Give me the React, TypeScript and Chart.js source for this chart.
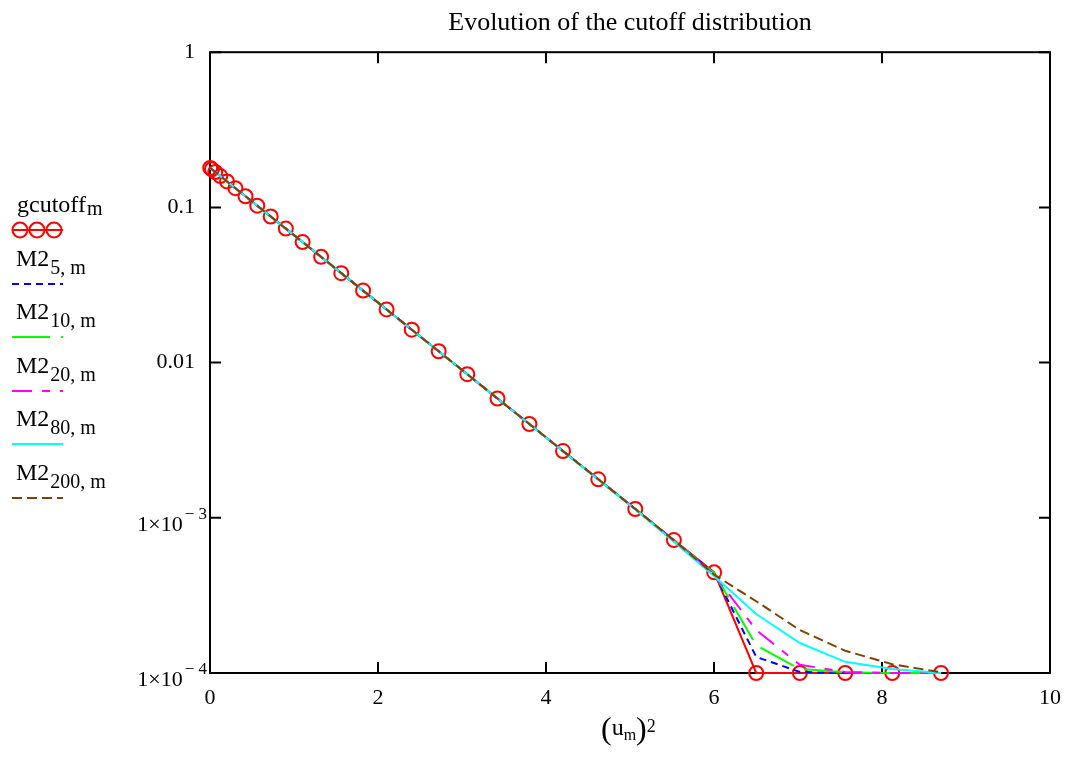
import React, { useEffect, useRef } from "react";
import { Chart, registerables } from "chart.js";

Chart.register(...registerables);

const SERIF = "'Liberation Serif', 'Times New Roman', Times, serif";

// ---- data ----
const uSquared = [
  0.0025, 0.0225, 0.0625, 0.1225, 0.2025, 0.3025, 0.4225, 0.5625, 0.7225, 0.9025,
  1.1025, 1.3225, 1.5625, 1.8225, 2.1025, 2.4025, 2.7225, 3.0625, 3.4225, 3.8025,
  4.2025, 4.6225, 5.0625, 5.5225, 6.0025, 6.5025, 7.0225, 7.5625, 8.1225, 8.7025,
];

const gcutoff = [
  0.1796, 0.176, 0.1691, 0.1592, 0.147, 0.133, 0.118, 0.1026, 0.0874, 0.073,
  0.0598, 0.048, 0.0377, 0.0291, 0.022, 0.01629, 0.01183, 0.00842, 0.00587, 0.00402,
  0.00269, 0.00177, 0.00114, 0.000719, 0.000445, 0.0001, 0.0001, 0.0001, 0.0001, 0.0001,
];

const m2_5 = [
  0.1796, 0.176, 0.1691, 0.1592, 0.147, 0.133, 0.118, 0.1026, 0.0874, 0.073,
  0.0598, 0.048, 0.0377, 0.0291, 0.022, 0.01629, 0.01183, 0.00842, 0.00587, 0.00402,
  0.00269, 0.00177, 0.00114, 0.000715, 0.00044, 0.000127, 0.0001015, 0.0001, 0.0001, 0.0001,
];

const m2_10 = [
  0.1796, 0.176, 0.1691, 0.1592, 0.147, 0.133, 0.118, 0.1026, 0.0874, 0.073,
  0.0598, 0.048, 0.0377, 0.0291, 0.022, 0.01629, 0.01183, 0.00842, 0.00587, 0.00402,
  0.00269, 0.00177, 0.00114, 0.000712, 0.00044, 0.000151, 0.000106, 0.000101, 0.0001, 0.0001,
];

const m2_20 = [
  0.1796, 0.176, 0.1691, 0.1592, 0.147, 0.133, 0.118, 0.1026, 0.0874, 0.073,
  0.0598, 0.048, 0.0377, 0.0291, 0.022, 0.01629, 0.01183, 0.00842, 0.00587, 0.00402,
  0.00269, 0.00177, 0.00114, 0.000708, 0.00043, 0.000189, 0.000113, 0.0001015, 0.0001, 0.0001,
];

const m2_80 = [
  0.1796, 0.176, 0.1691, 0.1592, 0.147, 0.133, 0.118, 0.1026, 0.0874, 0.073,
  0.0598, 0.048, 0.0377, 0.0291, 0.022, 0.01629, 0.01183, 0.00842, 0.00587, 0.00402,
  0.00268, 0.00176, 0.00113, 0.0007, 0.00042, 0.00024, 0.000156, 0.000118, 0.000106, 0.0001,
];

const m2_200 = [
  0.1796, 0.176, 0.1691, 0.1592, 0.147, 0.133, 0.118, 0.1026, 0.0874, 0.073,
  0.0598, 0.048, 0.0377, 0.0291, 0.022, 0.01629, 0.01183, 0.00842, 0.00587, 0.00402,
  0.00269, 0.00177, 0.00114, 0.000715, 0.00043, 0.00029, 0.000189, 0.000139, 0.000114, 0.000101,
];

const xTickValues = [0, 2, 4, 6, 8, 10];
const yTickValues = [1, 0.1, 0.01, 0.001, 0.0001];
const yTickBase = ["1", "0.1", "0.01", "1×10", "1×10"];
const yTickExp = ["", "", "", "− 3", "− 4"];

const titleText = "Evolution of the cutoff distribution";

// ---- styles ----
type Entry = {
  base: string;
  sub: string;
  subDrop: number;
  color: string;
  dash: number[];
  circles?: boolean;
};

const legendEntries: Entry[] = [
  { base: "gcutoff", sub: "m", subDrop: 3, color: "#ff0000", dash: [], circles: true },
  { base: "M2", sub: "5, m", subDrop: 8, color: "#0000ff", dash: [7, 5] },
  { base: "M2", sub: "10, m", subDrop: 8, color: "#00ff00", dash: [38, 11] },
  { base: "M2", sub: "20, m", subDrop: 8, color: "#ff00ff", dash: [20, 10, 8, 10] },
  { base: "M2", sub: "80, m", subDrop: 8, color: "#00ffff", dash: [] },
  { base: "M2", sub: "200, m", subDrop: 8, color: "#804000", dash: [10, 5] },
];

const seriesValues = [gcutoff, m2_5, m2_10, m2_20, m2_80, m2_200];

const frameAndTicks = {
  id: "frameAndTicks",
  beforeDatasetsDraw(chart: any) {
    const { ctx, chartArea: a, scales } = chart;
    ctx.save();
    ctx.strokeStyle = "#000";
    ctx.lineWidth = 2;
    ctx.strokeRect(a.left, a.top, a.right - a.left, a.bottom - a.top);
    const L = 11;
    ctx.beginPath();
    for (const v of xTickValues) {
      const px = scales.x.getPixelForValue(v);
      ctx.moveTo(px, a.bottom);
      ctx.lineTo(px, a.bottom - L);
      ctx.moveTo(px, a.top);
      ctx.lineTo(px, a.top + L);
    }
    for (const v of yTickValues) {
      const py = scales.y.getPixelForValue(v);
      ctx.moveTo(a.left, py);
      ctx.lineTo(a.left + L, py);
      ctx.moveTo(a.right, py);
      ctx.lineTo(a.right - L, py);
    }
    ctx.stroke();
    ctx.restore();
  },
  afterDraw(chart: any) {
    const { ctx, chartArea: a, scales } = chart;
    ctx.save();
    ctx.fillStyle = "#000";
    ctx.textBaseline = "alphabetic";
    ctx.textAlign = "right";
    yTickValues.forEach((v, i) => {
      const exp = yTickExp[i];
      if (!exp) return;
      const py = scales.y.getPixelForValue(v);
      const right = a.left - 3;
      ctx.font = `17px ${SERIF}`;
      ctx.fillText(exp, right, py + 1);
      const w = ctx.measureText(exp).width;
      ctx.font = `22px ${SERIF}`;
      ctx.fillText(yTickBase[i], right - w - 2, py + 13);
    });
    ctx.restore();
  },
};

function LegendBlock() {
  return (
    <>
      {legendEntries.map((e, i) => {
        const baseline = 212 + i * 53.6;
        const sampleY = baseline + 18;
        return (
          <React.Fragment key={i}>
            <div
              style={{
                position: "absolute",
                left: e.circles ? 17 : 16,
                top: baseline - 20,
                fontFamily: SERIF,
                fontSize: 24,
                lineHeight: "24px",
                whiteSpace: "nowrap",
                color: "#000",
              }}
            >
              {e.base}
              <span
                style={{
                  fontSize: 20,
                  position: "relative",
                  top: e.subDrop,
                  lineHeight: 0,
                  marginLeft: 1,
                }}
              >
                {e.sub}
              </span>
            </div>
            <svg
              width={80}
              height={24}
              style={{ position: "absolute", left: 0, top: sampleY - 12 }}
            >
              <line
                x1={12}
                y1={12}
                x2={63}
                y2={12}
                stroke={e.color}
                strokeWidth={2}
                strokeDasharray={e.dash.length ? e.dash.join(" ") : undefined}
              />
              {e.circles &&
                [20, 37, 54].map((cx) => (
                  <circle key={cx} cx={cx} cy={12} r={7.5} fill="none" stroke={e.color} strokeWidth={2} />
                ))}
            </svg>
          </React.Fragment>
        );
      })}
    </>
  );
}

function XTitle() {
  return (
    <div
      style={{
        position: "absolute",
        left: 601,
        top: 715,
        fontFamily: SERIF,
        fontSize: 24,
        lineHeight: "24px",
        whiteSpace: "nowrap",
        color: "#000",
      }}
    >
      <span style={{ fontSize: 32, lineHeight: 0, position: "relative", top: 4 }}>(</span>
      u
      <span style={{ fontSize: 16, lineHeight: 0, position: "relative", top: 5 }}>m</span>
      <span style={{ fontSize: 32, lineHeight: 0, position: "relative", top: 4 }}>)</span>
      <span style={{ fontSize: 18, lineHeight: 0, position: "relative", top: -3 }}>2</span>
    </div>
  );
}

export default function App() {
  const canvasRef = useRef<HTMLCanvasElement | null>(null);

  useEffect(() => {
    const canvas = canvasRef.current;
    if (!canvas) return;

    const datasets = legendEntries.map((e, i) => {
      const values = seriesValues[i];
      const isG = !!e.circles;
      return {
        label: e.base + "_" + e.sub,
        data: uSquared.map((x, k) => ({ x, y: values[k] })),
        borderColor: e.color,
        backgroundColor: "rgba(0,0,0,0)",
        borderWidth: 2,
        borderDash: e.dash,
        pointRadius: isG ? 7 : 0,
        pointBorderWidth: isG ? 2 : 0,
        pointBorderColor: e.color,
        pointBackgroundColor: "rgba(0,0,0,0)",
        pointHoverRadius: isG ? 7 : 0,
        tension: 0,
        fill: false,
        clip: false as any,
        order: legendEntries.length - 1 - i,
      };
    });

    const chart = new Chart(canvas, {
      type: "line",
      data: { datasets },
      options: {
        animation: false,
        responsive: false,
        events: [],
        layout: { padding: { left: 0, right: 24, top: 0, bottom: 0 } },
        plugins: {
          legend: { display: false },
          tooltip: { enabled: false },
          title: {
            display: true,
            text: titleText,
            color: "#000",
            font: { family: SERIF, size: 26, weight: "normal" },
            padding: { top: 8, bottom: 13 },
            fullSize: false,
          },
        },
        scales: {
          x: {
            type: "linear",
            min: 0,
            max: 10,
            grid: { display: false },
            border: { display: false },
            ticks: {
              color: "#000",
              font: { family: SERIF, size: 22 },
              padding: 4,
              maxRotation: 0,
              autoSkip: false,
            },
            afterBuildTicks(s: any) {
              s.ticks = xTickValues.map((v) => ({ value: v }));
            },
            afterFit(s: any) {
              s.height = 92;
            },
          },
          y: {
            type: "logarithmic",
            min: 0.0001,
            max: 1,
            grid: { display: false },
            border: { display: false },
            ticks: {
              color: "#000",
              font: { family: SERIF, size: 22 },
              padding: 7,
              autoSkip: false,
              callback: (value: any) => {
                const idx = yTickValues.findIndex((t) => Math.abs(Math.log10(t) - Math.log10(Number(value))) < 1e-6);
                if (idx < 0) return "";
                return yTickExp[idx] ? "" : yTickBase[idx];
              },
            },
            afterBuildTicks(s: any) {
              s.ticks = [...yTickValues].reverse().map((v) => ({ value: v }));
            },
            afterFit(s: any) {
              s.width = 210;
            },
          },
        },
      },
      plugins: [frameAndTicks],
    } as any);

    return () => chart.destroy();
  }, []);

  return (
    <div style={{ position: "absolute", left: 0, top: 0, width: 1074, height: 765, background: "#fff" }}>
      <canvas ref={canvasRef} width={1074} height={765} style={{ position: "absolute", left: 0, top: 0, display: "block" }} />
      <LegendBlock />
      <XTitle />
    </div>
  );
}
